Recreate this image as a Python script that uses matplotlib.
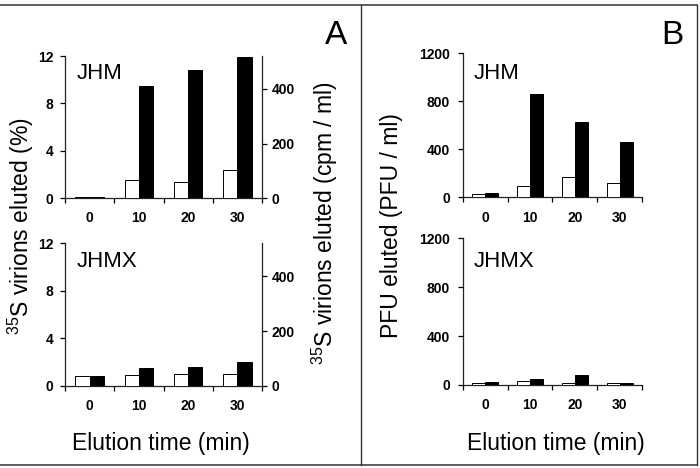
import numpy as np
from matplotlib import pyplot as plt
from matplotlib.lines import Line2D

plt.rcParams['font.family'] = ['Liberation Sans', 'DejaVu Sans']
plt.rcParams['mathtext.fontset'] = 'custom'
plt.rcParams['mathtext.rm'] = 'Liberation Sans'

times = ['0', '10', '20', '30']

# panel A: 35S virions eluted, white = % (left axis), black = cpm/ml (right axis)
a_jhm_pct = [0.1, 1.5, 1.35, 2.35]
a_jhm_cpm = [3, 412, 471, 518]
a_jhmx_pct = [0.82, 0.9, 0.98, 0.95]
a_jhmx_cpm = [35, 64, 70, 88]

# panel B: PFU eluted (PFU / ml)
b_jhm_white = [27, 97, 167, 122]
b_jhm_black = [38, 861, 630, 463]
b_jhmx_white = [19, 33, 19, 16]
b_jhmx_black = [27, 47, 79, 16]

x = np.arange(len(times))
w = 0.29
tick_font = dict(fontsize=10, fontweight='bold')


def style_x(ax):
    ax.set_xlim(-0.5, len(times) - 0.5)
    ax.set_xticks(np.arange(len(times) + 1) - 0.5)
    ax.set_xticklabels([])
    ax.set_xticks(x, minor=True)
    ax.set_xticklabels(times, minor=True, **tick_font)
    ax.tick_params(axis='x', which='major', direction='out', length=3.6, width=0.9)
    ax.tick_params(axis='x', which='minor', length=0, pad=9.5)
    for s in ['top', 'right']:
        ax.spines[s].set_visible(False)
    for s in ['left', 'bottom']:
        ax.spines[s].set_linewidth(0.9)
        ax.spines[s].set_color('#222222')


def bars(ax, vals, fill):
    off = -w / 2 if fill == 'white' else w / 2
    ax.bar(x + off, vals, width=w, color=fill, edgecolor='black', linewidth=0.7,
           zorder=3)


def left_y(ax, top, ticks, pad):
    ax.set_ylim(0, top)
    ax.set_yticks(ticks)
    ax.set_yticklabels([str(t) for t in ticks], **tick_font)
    ax.tick_params(axis='y', direction='out', length=3.6, width=0.9, pad=pad)


def panel_a(rect, pct, cpm, name, ty):
    ax = fig.add_axes(rect)
    bars(ax, pct, 'white')
    style_x(ax)
    left_y(ax, 12, [0, 4, 8, 12], 5)
    ax2 = ax.twinx()
    bars(ax2, cpm, 'black')
    ax2.set_ylim(0, 521)
    ax2.set_yticks([0, 200, 400])
    ax2.set_yticklabels(['0', '200', '400'], **tick_font)
    ax2.tick_params(axis='y', direction='out', length=3.6, width=0.9, pad=3.4)
    for s in ['top', 'left', 'bottom']:
        ax2.spines[s].set_visible(False)
    ax2.spines['right'].set_linewidth(0.9)
    ax2.spines['right'].set_color('#222222')
    ax.text(0.061, ty, name, transform=ax.transAxes, fontsize=16, va='baseline')


def panel_b(rect, white, black, name, ty):
    ax = fig.add_axes(rect)
    bars(ax, white, 'white')
    bars(ax, black, 'black')
    style_x(ax)
    left_y(ax, 1200, [0, 400, 800, 1200], 5.8)
    ax.text(0.061, ty, name, transform=ax.transAxes, fontsize=16, va='baseline')


fig = plt.figure(figsize=(7, 4.68), dpi=100)

panel_a([0.0929, 0.5769, 0.2814, 0.3034], a_jhm_pct, a_jhm_cpm, 'JHM', 0.838)
panel_a([0.0929, 0.1759, 0.2814, 0.3042], a_jhmx_pct, a_jhmx_cpm, 'JHMX', 0.836)
panel_b([0.6614, 0.5784, 0.2557, 0.3077], b_jhm_white, b_jhm_black, 'JHM', 0.821)
panel_b([0.6614, 0.1774, 0.2557, 0.3134], b_jhmx_white, b_jhmx_black, 'JHMX', 0.806)

lab = dict(fontsize=16.5, ha='center', va='center')
fig.text(0.030, 0.517, r'$\mathregular{^{35}}$S virions eluted (%)', rotation=90, **lab)
fig.text(0.464, 0.523, r'$\mathregular{^{35}}$S virions eluted (cpm / ml)', rotation=90, **lab)
fig.text(0.559, 0.517, 'PFU eluted (PFU / ml)', rotation=90, **lab)
fig.text(0.230, 0.0534, 'Elution time (min)', **lab)
fig.text(0.794, 0.0534, 'Elution time (min)', **lab)

fig.text(0.480, 0.925, 'A', fontsize=24, ha='center', va='center')
fig.text(0.961, 0.925, 'B', fontsize=24, ha='center', va='center')

# panel frames
fc = '#333333'
fig.add_artist(Line2D([0, 0.996], [0.989, 0.989], color=fc, lw=1.1))
fig.add_artist(Line2D([0, 0.996], [0.007, 0.007], color=fc, lw=1.1))
fig.add_artist(Line2D([0.515, 0.515], [0.007, 0.989], color=fc, lw=1.0))
fig.add_artist(Line2D([0.996, 0.996], [0.007, 0.989], color=fc, lw=1.0))

fig.savefig('out.png', dpi=100)
